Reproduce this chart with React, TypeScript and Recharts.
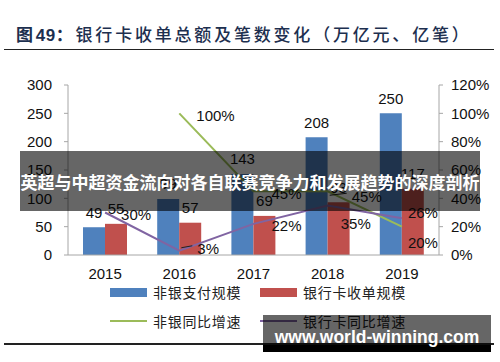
import React from 'react';
import { ComposedChart, Bar, Line, XAxis, YAxis, LabelList } from 'recharts';

const years = ['2015', '2016', '2017', '2018', '2019'];
const nonBankScale = [49, 99, 143, 208, 250];
const bankCardScale = [55, 57, 69, 93, 117];
const nonBankGrowth: (number | null)[] = [null, 100, 45, 45, 20];
const bankCardGrowth = [30, 3, 22, 35, 26];
const leftTicks = [0, 50, 100, 150, 200, 250, 300];
const rightTicks = [0, 20, 40, 60, 80, 100, 120];

const data = years.map((year, i) => ({
  year,
  nonBank: nonBankScale[i],
  bankCard: bankCardScale[i],
  nbGrowth: nonBankGrowth[i],
  bcGrowth: bankCardGrowth[i],
}));

// label placement (style only)
const greenLabelPos = [
  { dx: 0, dy: 0, lead: false },
  { dx: 17, dy: 2, lead: false },
  { dx: 18, dy: 2, lead: false },
  { dx: 24, dy: 5, lead: true },
  { dx: 6, dy: 16, lead: false },
];
const purpleLabelPos = [
  { dx: 16, dy: 2, lead: false },
  { dx: 18, dy: -2, lead: true },
  { dx: 18, dy: 2, lead: false },
  { dx: 13, dy: 18, lead: false },
  { dx: 6, dy: -6, lead: false },
];

const BLUE = '#4F81BD';
const RED = '#C0504D';
const GREEN = '#9BBB59';
const PURPLE = '#8064A2';
const AXIS = '#A6A6A6';
const NUM_FONT = '"Liberation Sans", Arial, sans-serif';
const CJK_FONT = '"Noto Sans CJK SC", sans-serif';

const makeLineLabel = (pos: any[]) => (props: any) => {
  const { x, y, value, index } = props;
  if (value == null || y == null || isNaN(y)) return null;
  const o = pos[index];
  return (
    <g>
      {o.lead && (
        <line x1={x + 2} y1={y + o.dy - 1} x2={x + o.dx - 5} y2={y + o.dy - 3} stroke="#222" strokeWidth={1} />
      )}
      <text
        x={x + o.dx}
        y={y + o.dy}
        dominantBaseline="central"
        textAnchor="start"
        fontSize={15}
        fontFamily={NUM_FONT}
        fill="#111"
      >
        {value}%
      </text>
    </g>
  );
};

const barLabel = (props: any) => {
  const { x, y, width, value } = props;
  return (
    <text
      x={x + width / 2}
      y={y - 15}
      dominantBaseline="central"
      textAnchor="middle"
      fontSize={15}
      fontFamily={NUM_FONT}
      fill="#111"
    >
      {value}
    </text>
  );
};

const tickStyle = { fontSize: 15, fontFamily: NUM_FONT, fill: '#111' };

const legendItems = [
  { name: '非银支付规模', color: BLUE, type: 'rect', x: 110, y: 292 },
  { name: '银行卡收单规模', color: RED, type: 'rect', x: 260, y: 292 },
  { name: '非银同比增速', color: GREEN, type: 'line', x: 110, y: 321 },
  { name: '银行卡同比增速', color: PURPLE, type: 'line', x: 260, y: 321 },
];

export default function App() {
  return (
    <div style={{ position: 'absolute', left: 0, top: 0, width: 500, height: 362, background: '#fff', overflow: 'hidden' }}>
      <div
        style={{
          position: 'absolute',
          left: 16,
          top: 22,
          fontFamily: CJK_FONT,
          fontSize: 17,
          lineHeight: '24px',
          letterSpacing: 2.8,
          color: '#1d2f4f',
          whiteSpace: 'nowrap',
        }}
      >
        <span style={{ fontWeight: 700 }}>
          图<span style={{ fontFamily: NUM_FONT, letterSpacing: 0.5 }}>49</span>：
        </span>
        <span style={{ fontWeight: 500 }}>银行卡收单总额及笔数变化（万亿元、亿笔）</span>
      </div>
      <div style={{ position: 'absolute', left: 4, top: 48.5, width: 490, height: 1.5, background: '#222' }} />

      <ComposedChart
        width={500}
        height={362}
        data={data}
        margin={{ top: 85, right: 0, bottom: 77, left: 8 }}
        barGap={0}
      >
        <XAxis
          dataKey="year"
          axisLine={{ stroke: AXIS }}
          tickLine={false}
          tickSize={0}
          tickMargin={13}
          height={30}
          tick={tickStyle}
        />
        <YAxis
          yAxisId="left"
          domain={[0, 300]}
          ticks={leftTicks}
          width={60}
          axisLine={{ stroke: AXIS }}
          tickLine={{ stroke: AXIS }}
          tickSize={4}
          tickMargin={12}
          tick={tickStyle}
          interval={0}
        />
        <YAxis
          yAxisId="right"
          orientation="right"
          domain={[0, 120]}
          ticks={rightTicks}
          width={61}
          axisLine={{ stroke: AXIS }}
          tickLine={{ stroke: AXIS }}
          tickSize={4}
          tickMargin={8}
          tick={tickStyle}
          interval={0}
          tickFormatter={(v: number) => `${v}%`}
        />
        <Bar yAxisId="left" dataKey="nonBank" fill={BLUE} barSize={22} isAnimationActive={false}>
          <LabelList dataKey="nonBank" content={barLabel} />
        </Bar>
        <Bar yAxisId="left" dataKey="bankCard" fill={RED} barSize={22} isAnimationActive={false}>
          <LabelList dataKey="bankCard" content={barLabel} />
        </Bar>
        <Line
          yAxisId="right"
          dataKey="nbGrowth"
          stroke={GREEN}
          strokeWidth={2}
          dot={false}
          activeDot={false}
          isAnimationActive={false}
        >
          <LabelList dataKey="nbGrowth" content={makeLineLabel(greenLabelPos)} />
        </Line>
        <Line
          yAxisId="right"
          dataKey="bcGrowth"
          stroke={PURPLE}
          strokeWidth={2}
          dot={false}
          activeDot={false}
          isAnimationActive={false}
        >
          <LabelList dataKey="bcGrowth" content={makeLineLabel(purpleLabelPos)} />
        </Line>
      </ComposedChart>

      {legendItems.map((it) => (
        <div
          key={it.name}
          style={{ position: 'absolute', left: it.x, top: it.y - 10, height: 20, display: 'flex', alignItems: 'center', whiteSpace: 'nowrap' }}
        >
          <div
            style={{
              width: 37,
              height: it.type === 'rect' ? 9 : 2,
              background: it.color,
              marginRight: 6,
            }}
          />
          <span style={{ fontFamily: CJK_FONT, fontSize: 14, letterSpacing: 0.7, color: '#222', lineHeight: '20px' }}>{it.name}</span>
        </div>
      ))}

      <div style={{ position: 'absolute', left: 4, top: 343, width: 490, height: 1.5, background: '#222' }} />

      <div
        style={{
          position: 'absolute',
          left: 20,
          top: 151,
          width: 460,
          height: 60,
          background: 'rgba(0,0,0,0.6)',
          display: 'flex',
          alignItems: 'center',
          justifyContent: 'center',
        }}
      >
        <span style={{ color: '#fff', fontFamily: CJK_FONT, fontWeight: 700, fontSize: 17, whiteSpace: 'nowrap' }}>
          英超与中超资金流向对各自联赛竞争力和发展趋势的深度剖析
        </span>
      </div>

      <div style={{ position: 'absolute', left: 263, top: 315, width: 228, height: 30, background: 'rgba(0,0,0,0.6)' }} />
      <div style={{ position: 'absolute', left: 263, top: 345, width: 228, height: 7, background: '#000' }} />
      <div
        style={{
          position: 'absolute',
          left: 263,
          top: 325,
          width: 228,
          height: 24,
          display: 'flex',
          alignItems: 'center',
          justifyContent: 'center',
          color: '#fff',
          fontFamily: NUM_FONT,
          fontWeight: 700,
          fontSize: 17.5,
          whiteSpace: 'nowrap',
        }}
      >
        www.world-winning.com
      </div>
    </div>
  );
}
